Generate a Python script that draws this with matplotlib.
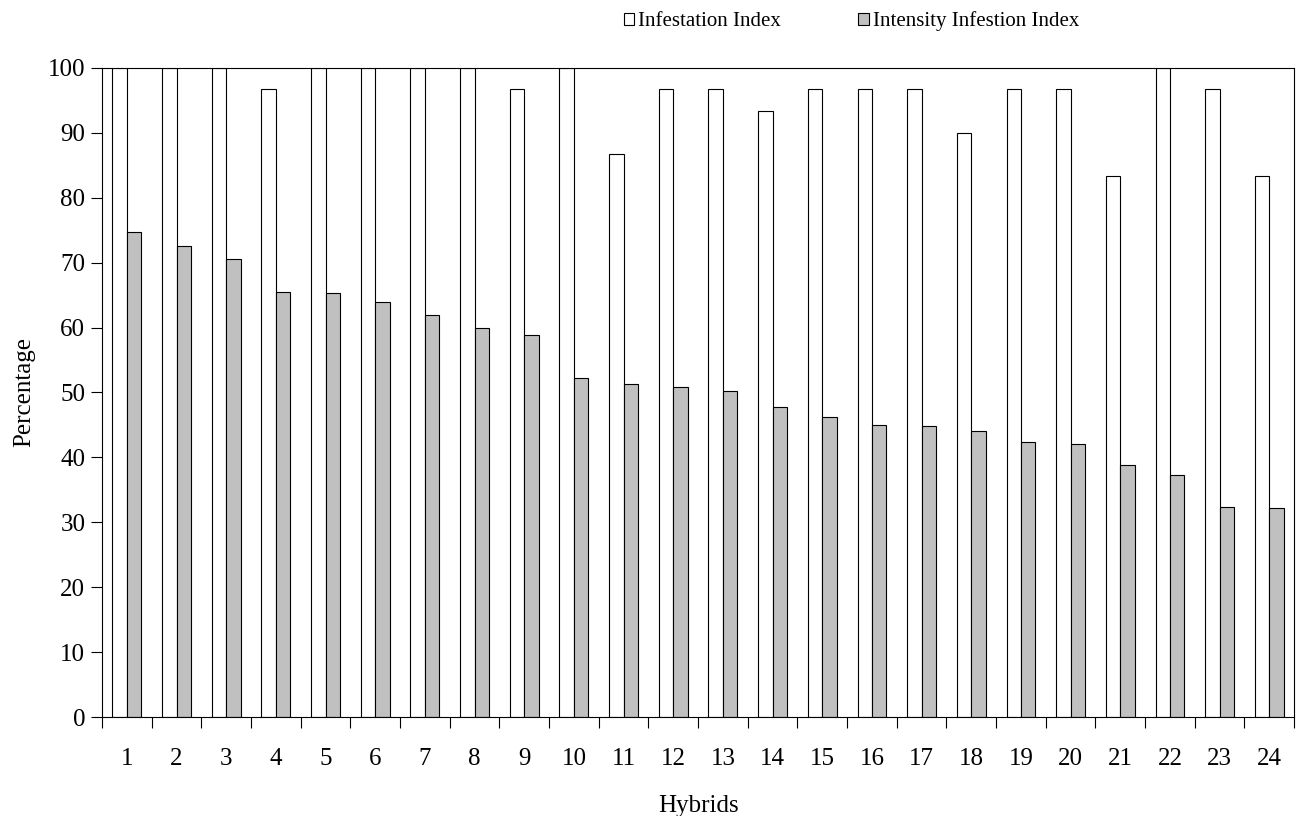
import numpy as np
import matplotlib
matplotlib.use('Agg')
import matplotlib.pyplot as plt
import matplotlib.patches as mpatches
from matplotlib.ticker import MultipleLocator, FixedLocator

plt.rcParams['font.family'] = ['Liberation Serif', 'DejaVu Serif']

# ── DATA ──────────────────────────────────────────────────────────────────────
hybrids = [str(i) for i in range(1, 25)]
infestation = [100, 100, 100, 96.7, 100, 100, 100, 100, 96.7, 100, 86.7, 96.7,
               96.7, 93.3, 96.7, 96.7, 96.7, 90.0, 96.7, 96.7, 83.3, 100, 96.7, 83.3]
intensity = [74.7, 72.6, 70.5, 65.5, 65.4, 64.0, 61.9, 59.9, 58.8, 52.2, 51.3, 50.9,
             50.2, 47.7, 46.2, 45.0, 44.8, 44.0, 42.3, 42.0, 38.9, 37.3, 32.3, 32.2]

# ── CHART ─────────────────────────────────────────────────────────────────────
fig = plt.figure(figsize=(12.98, 8.16), dpi=100)
ax = fig.add_axes([0.0786, 0.1213, 0.9184, 0.7954])

x = np.arange(1, len(hybrids) + 1)
w = 0.29
ax.bar(x - w / 2, infestation, width=w, color='white', edgecolor='black', linewidth=0.8)
ax.bar(x + w / 2, intensity, width=w, color='#c0c0c0', edgecolor='black', linewidth=0.8)

ax.set_xlim(0.5, len(hybrids) + 0.5)
ax.set_ylim(0, 100)
ax.yaxis.set_major_locator(MultipleLocator(10))
ax.set_xticks(x)
ax.set_xticklabels(hybrids)
ax.xaxis.set_minor_locator(FixedLocator(np.arange(0.5, len(hybrids) + 1, 1)))
ax.tick_params(axis='x', which='major', length=0, pad=22, labelsize=18)
ax.tick_params(axis='x', which='minor', length=8, width=0.8, direction='out')
ax.tick_params(axis='y', length=8, width=0.8, direction='out', labelsize=18, pad=4)

for spine in ax.spines.values():
    spine.set_linewidth(0.8)

ax.set_xlabel('Hybrids', fontsize=18, labelpad=18)
ax.set_ylabel('Percentage', fontsize=18, labelpad=9)

legend_items = [
    mpatches.Patch(facecolor='white', edgecolor='black', linewidth=0.8, label='Infestation Index'),
    mpatches.Patch(facecolor='#c0c0c0', edgecolor='black', linewidth=0.8, label='Intensity Infestion Index'),
]
fig.legend(handles=legend_items, loc='center', bbox_to_anchor=(0.656, 0.974),
           ncol=2, frameon=False, fontsize=15, handlelength=0.5, handleheight=0.5,
           handletextpad=0.2, columnspacing=3.7, borderaxespad=0)

plt.savefig('out.png', dpi=100)
